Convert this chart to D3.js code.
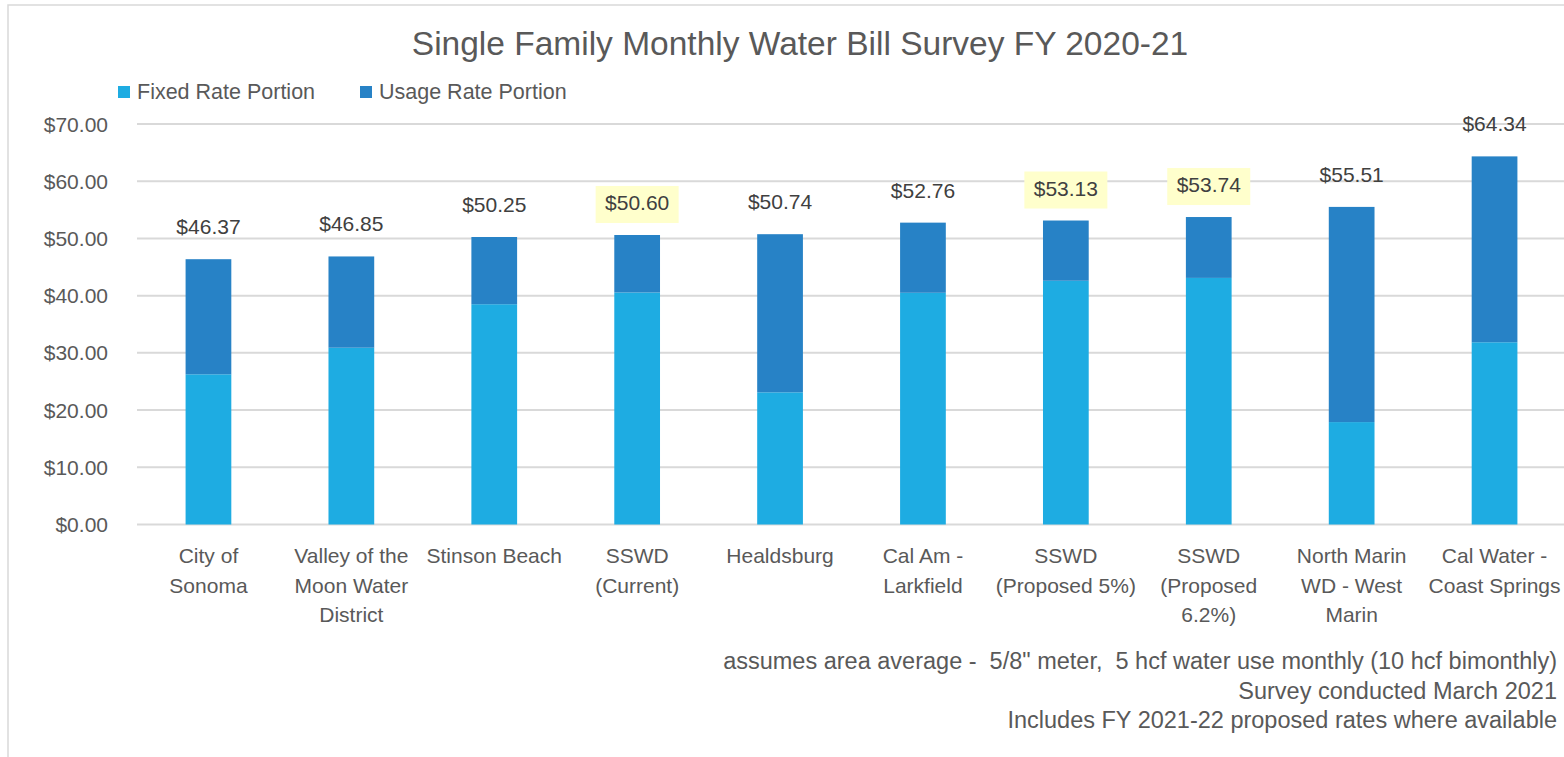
<!DOCTYPE html>
<html>
<head>
<meta charset="utf-8">
<script src="https://cdn.jsdelivr.net/npm/d3@7"></script>
<style>
  body { margin: 0; background: #fff; }
  svg text { font-family: "Liberation Sans", Arial, sans-serif; fill: #595959; }
  .note { white-space: pre; }
</style>
</head>
<body>
<div id="chart"></div>
<script>
// Chart data
const categories = [
  ['City of', 'Sonoma'],
  ['Valley of the', 'Moon Water', 'District'],
  ['Stinson Beach'],
  ['SSWD', '(Current)'],
  ['Healdsburg'],
  ['Cal Am -', 'Larkfield'],
  ['SSWD', '(Proposed 5%)'],
  ['SSWD', '(Proposed', '6.2%)'],
  ['North Marin', 'WD - West', 'Marin'],
  ['Cal Water -', 'Coast Springs']
];
const totalBill = [46.37, 46.85, 50.25, 50.60, 50.74, 52.76, 53.13, 53.74, 55.51, 64.34];
const fixedPortion = [26.25, 30.9, 38.5, 40.55, 23.1, 40.5, 42.6, 43.1, 17.9, 31.85];
const highlighted = [false, false, false, true, false, false, true, true, false, false];
const yTicks = [0, 10, 20, 30, 40, 50, 60, 70];
const seriesNames = ['Fixed Rate Portion', 'Usage Rate Portion'];
const notes = [
  'assumes area average -  5/8" meter,  5 hcf water use monthly (10 hcf bimonthly)',
  'Survey conducted March 2021',
  'Includes FY 2021-22 proposed rates where available'
];

const W = 1564, H = 757;
const colors = ['#1EACE2', '#2782C6'];

const rows = categories.map((c, i) => ({
  key: c.join(' '),
  lines: c,
  total: totalBill[i],
  fixed: fixedPortion[i],
  usage: totalBill[i] - fixedPortion[i],
  hi: highlighted[i]
}));

const svg = d3.select('#chart').append('svg')
  .attr('width', W).attr('height', H);

// chart area border
svg.append('rect')
  .attr('x', 8).attr('y', 5).attr('width', W + 20).attr('height', H + 20)
  .attr('fill', 'none').attr('stroke', '#d9d9d9').attr('stroke-width', 1.5);

const x = d3.scaleBand()
  .domain(rows.map(d => d.key))
  .range([137, 1566])
  .paddingInner(0.68)
  .paddingOuter(0.34);

const y = d3.scaleLinear().domain([0, 70]).range([524.5, 124]);

// title
svg.append('text')
  .attr('x', 800).attr('y', 55)
  .attr('text-anchor', 'middle')
  .style('font-size', '33.5px')
  .text('Single Family Monthly Water Bill Survey FY 2020-21');

// legend
const legendX = [118, 360];
const legend = svg.selectAll('.legend').data(seriesNames).join('g')
  .attr('class', 'legend')
  .attr('transform', (d, i) => `translate(${legendX[i]},0)`);
legend.append('rect')
  .attr('x', 0).attr('y', 86).attr('width', 12).attr('height', 12)
  .attr('fill', (d, i) => colors[i]);
legend.append('text')
  .attr('x', 19).attr('y', 99)
  .style('font-size', '21.5px')
  .text(d => d);

// gridlines + y labels
const yAxis = svg.append('g');
yAxis.selectAll('line').data(yTicks).join('line')
  .attr('x1', 137).attr('x2', W)
  .attr('y1', d => y(d)).attr('y2', d => y(d))
  .attr('stroke', '#d9d9d9').attr('stroke-width', 2);
yAxis.selectAll('text').data(yTicks).join('text')
  .attr('x', 108).attr('y', d => y(d) + 7.5)
  .attr('text-anchor', 'end')
  .style('font-size', '21px')
  .text(d => '$' + d3.format('.2f')(d));

// stacked bars
const stacked = d3.stack().keys(['fixed', 'usage'])(rows);
svg.append('g').selectAll('g').data(stacked).join('g')
  .attr('fill', (d, i) => colors[i])
  .selectAll('rect').data(d => d).join('rect')
  .attr('x', d => x(d.data.key))
  .attr('width', x.bandwidth())
  .attr('y', d => y(d[1]))
  .attr('height', d => y(d[0]) - y(d[1]));

// value labels
const labels = svg.append('g').selectAll('g').data(rows).join('g')
  .attr('transform', d => `translate(${x(d.key) + x.bandwidth() / 2},${y(d.total) - 25})`);
labels.filter(d => d.hi).append('rect')
  .attr('x', -41.5).attr('y', -24).attr('width', 83).attr('height', 37)
  .attr('fill', '#FFFFCC');
labels.append('text')
  .attr('text-anchor', 'middle')
  .style('font-size', '21px')
  .style('fill', '#404040')
  .text(d => '$' + d3.format('.2f')(d.total));

// category labels
const xLab = svg.append('g').selectAll('text').data(rows).join('text')
  .attr('text-anchor', 'middle')
  .attr('transform', d => `translate(${x(d.key) + x.bandwidth() / 2},563)`)
  .style('font-size', '21px');
xLab.selectAll('tspan').data(d => d.lines).join('tspan')
  .attr('x', 0).attr('y', (d, i) => i * 29.5)
  .text(d => d);

// footnotes
svg.append('g').selectAll('text').data(notes).join('text')
  .attr('class', 'note')
  .attr('x', 1557).attr('y', (d, i) => 669 + i * 29.5)
  .attr('text-anchor', 'end')
  .style('font-size', '23.5px')
  .text(d => d);
</script>
</body>
</html>
